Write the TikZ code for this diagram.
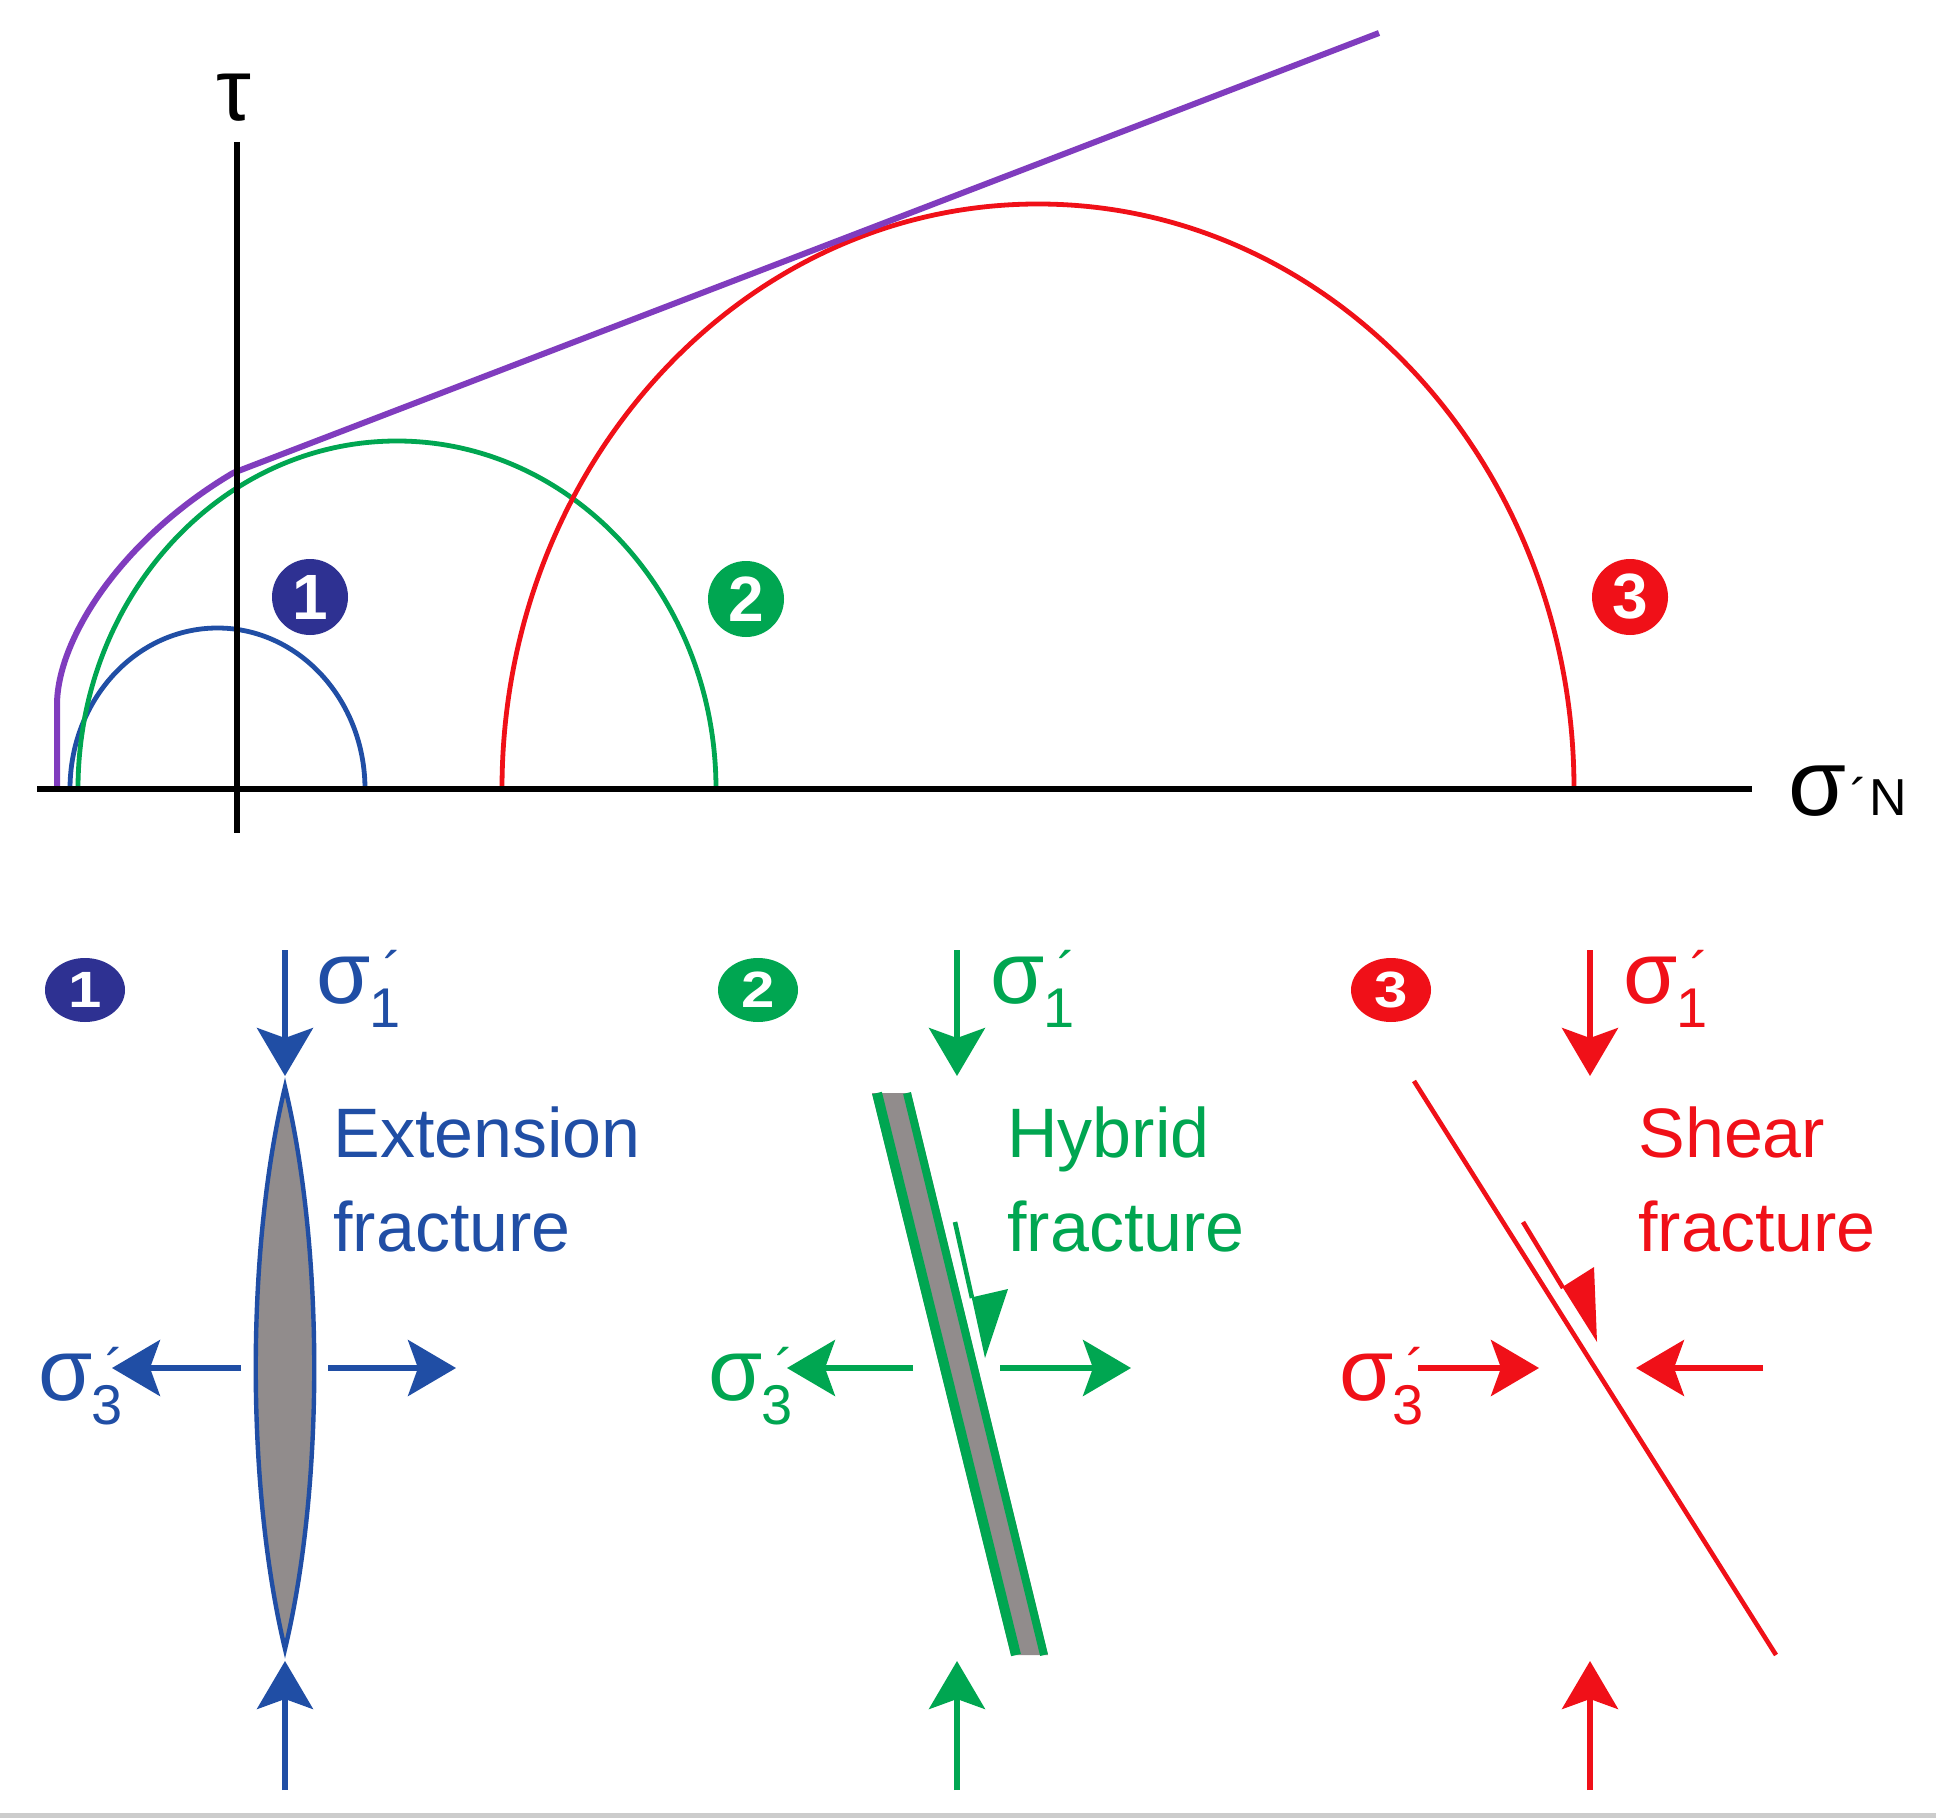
\documentclass[tikz,border=0pt]{standalone}
\usepackage{fontspec}
\setmainfont{Liberation Sans}
\usetikzlibrary{arrows.meta,shapes.geometric}
\definecolor{cnavy}{RGB}{46,49,146}
\definecolor{cblue}{RGB}{32,78,165}
\definecolor{cgreen}{RGB}{0,166,81}
\definecolor{cred}{RGB}{240,16,24}
\definecolor{cpurple}{RGB}{128,60,190}
\definecolor{cgray}{RGB}{145,140,140}
\newcommand{\sgl}[1]{{\fontsize{44}{44}\selectfont σ}\kern-0.5pt\rlap{\raisebox{-12pt}{\fontsize{28}{28}\selectfont #1}}\raisebox{6pt}{\fontsize{28}{28}\selectfont\kern7pt ´}}
\begin{document}
\begin{tikzpicture}[x=0.5pt,y=-0.5pt,
  axisline/.style={line width=2.8pt, black},
  mohr/.style={line width=2.4pt},
  stress/.style={line width=2.6pt, -{Stealth[length=24pt,width=28pt,inset=5pt]}},
  badgeT/.style={circle, inner sep=0pt, minimum size=38pt, text=white, font=\fontsize{32}{32}\selectfont\bfseries},
  badgeB/.style={ellipse, inner sep=0pt, minimum width=40pt, minimum height=32pt, text=white, font=\fontsize{30}{30}\selectfont\bfseries},
  lbl/.style={inner sep=0pt, anchor=base west, font=\fontsize{35}{35}\selectfont},
  sig/.style={inner sep=0pt, anchor=base west},
]
\useasboundingbox (0,0) rectangle (1936,1818);
\fill[white] (0,0) rectangle (1936,1818);
\fill[black!20] (0,1813) rectangle (1936,1818);

% ---------- Mohr diagram ----------
\draw[mohr, cblue] (70,789) arc[start angle=180, end angle=360, x radius=147.5, y radius=161];
\draw[mohr, cgreen] (78,789) arc[start angle=180, end angle=360, x radius=319, y radius=348];
\draw[mohr, cred] (502,789) arc[start angle=180, end angle=360, x radius=536, y radius=585];
\draw[line width=3pt, cpurple, line join=round] (57,789) -- (57,705) .. controls (57,640) and (120,540) .. (233,473) -- (1379,33);
\draw[axisline] (37,789) -- (1752,789);
\draw[axisline] (237,142) -- (237,833);
\node[inner sep=0pt, anchor=base, font=\fontsize{44}{44}\selectfont] (tau) at (234,121) {τ};
\node[sig] (sN) at (1788,815) {{\fontsize{47}{47}\selectfont σ}{\fontsize{26}{26}\selectfont\kern2pt´\kern1pt N}};
\node[badgeT, fill=cnavy] (b1t) at (310,597) {1};
\node[badgeT, fill=cgreen] (b2t) at (746,599) {2};
\node[badgeT, fill=cred] (b3t) at (1630,597) {3};

% ---------- Panel 1: extension ----------
\node[badgeB, fill=cnavy] (b1) at (85,990) {\scalebox{1}[0.85]{1}};
\coordinate (a1s) at (285,950); \coordinate (a1e) at (285,1076);
\coordinate (a1bs) at (285,1790); \coordinate (a1be) at (285,1661);
\coordinate (a1ls) at (241,1368); \coordinate (a1le) at (112,1368);
\coordinate (a1rs) at (328,1368); \coordinate (a1re) at (456,1368);
\draw[stress, cblue] (a1s) -- (a1e);
\draw[stress, cblue] (a1bs) -- (a1be);
\draw[stress, cblue] (a1ls) -- (a1le);
\draw[stress, cblue] (a1rs) -- (a1re);
\draw[line width=2.2pt, cblue, fill=cgray] (285,1087) .. controls (324,1250) and (324,1486) .. (285,1649) .. controls (246,1486) and (246,1250) .. (285,1087) -- cycle;
\node[sig, text=cblue] (s11) at (316,1003) {\sgl{1}};
\node[sig, text=cblue] (s13) at (38,1400) {\sgl{3}};
\node[lbl, text=cblue] (t1a) at (333,1157) {Extension};
\node[lbl, text=cblue] (t1b) at (333,1251) {fracture};

% ---------- Panel 2: hybrid ----------
\node[badgeB, fill=cgreen] (b2) at (758,990) {\scalebox{1}[0.85]{2}};
\coordinate (a2s) at (957,950); \coordinate (a2e) at (957,1076);
\coordinate (a2bs) at (957,1790); \coordinate (a2be) at (957,1661);
\coordinate (a2ls) at (913,1368); \coordinate (a2le) at (787,1368);
\coordinate (a2rs) at (1000,1368); \coordinate (a2re) at (1131,1368);
\draw[stress, cgreen] (a2s) -- (a2e);
\draw[stress, cgreen] (a2bs) -- (a2be);
\draw[stress, cgreen] (a2ls) -- (a2le);
\draw[stress, cgreen] (a2rs) -- (a2re);
\fill[cgray] (872,1093) -- (911,1093) -- (1048,1655) -- (1011,1655) -- cycle;
\draw[line width=5pt, cgreen] (877,1093) -- (1016,1655);
\draw[line width=4pt, cgreen] (907,1093) -- (1044,1655);
\draw[line width=2.3pt, cgreen] (955,1222) -- (972,1298);
\fill[cgreen] (971.7,1297.4) -- (1008,1289) -- (985,1358) -- cycle;
\node[sig, text=cgreen] (s21) at (990,1003) {\sgl{1}};
\node[sig, text=cgreen] (s23) at (708,1400) {\sgl{3}};
\node[lbl, text=cgreen] (t2a) at (1007,1157) {Hybrid};
\node[lbl, text=cgreen] (t2b) at (1007,1251) {fracture};

% ---------- Panel 3: shear ----------
\node[badgeB, fill=cred] (b3) at (1391,990) {\scalebox{1}[0.85]{3}};
\coordinate (a3s) at (1590,950); \coordinate (a3e) at (1590,1076);
\coordinate (a3bs) at (1590,1790); \coordinate (a3be) at (1590,1661);
\coordinate (a3ls) at (1418,1368); \coordinate (a3le) at (1539,1368);
\coordinate (a3rs) at (1763,1368); \coordinate (a3re) at (1636,1368);
\draw[stress, cred] (a3s) -- (a3e);
\draw[stress, cred] (a3bs) -- (a3be);
\draw[stress, cred] (a3ls) -- (a3le);
\draw[stress, cred] (a3rs) -- (a3re);
\draw[line width=2.3pt, cred] (1414,1081) -- (1776,1655);
\draw[line width=2.3pt, cred] (1523,1222) -- (1563,1288);
\fill[cred] (1562.4,1287) -- (1594,1267) -- (1597,1342) -- cycle;
\node[sig, text=cred] (s31) at (1623,1003) {\sgl{1}};
\node[sig, text=cred] (s33) at (1339,1400) {\sgl{3}};
\node[lbl, text=cred] (t3a) at (1638,1157) {Shear};
\node[lbl, text=cred] (t3b) at (1638,1251) {fracture};
\end{tikzpicture}
\end{document}
